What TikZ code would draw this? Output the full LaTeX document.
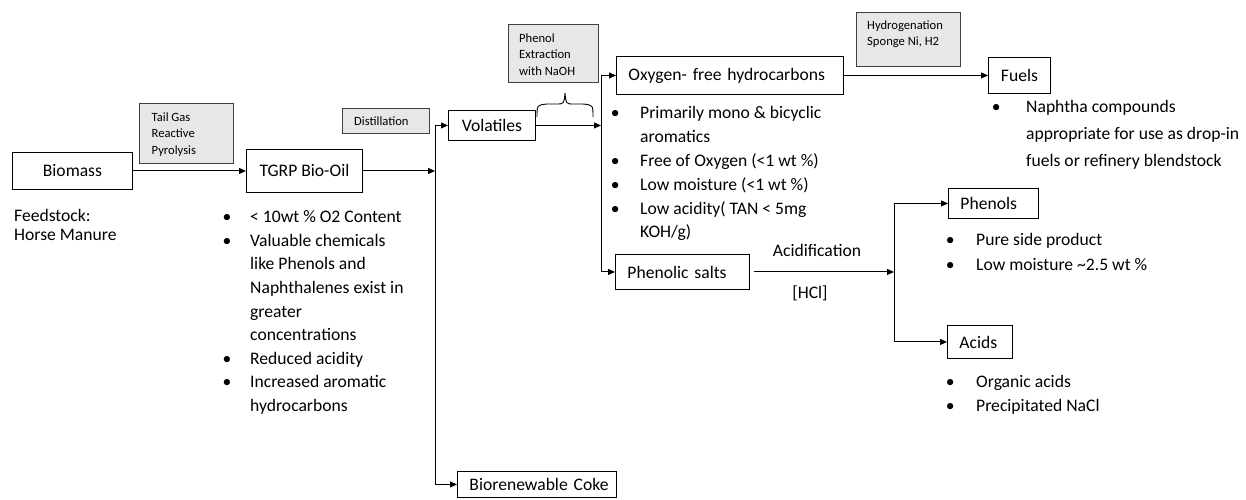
\documentclass[tikz,border=0pt]{standalone}
\usepackage{fontspec}
\setmainfont{Carlito}
\usetikzlibrary{arrows.meta}
\definecolor{grayfill}{HTML}{E7E7E7}
\definecolor{grayedge}{HTML}{404040}
\newcommand{\bigfont}{\fontsize{17.6}{23.6}\selectfont}
\begin{document}
\begin{tikzpicture}[x=1pt,y=-1pt,
  wbox/.style={draw=black, line width=0.9pt, inner ysep=0pt, anchor=north west, font=\bigfont},
  lbox/.style={wbox, inner xsep=12pt, align=left},
  gbox/.style={draw=grayedge, fill=grayfill, line width=0.9pt, anchor=north west, inner sep=0pt},
  gtext/.style={anchor=north west, inner sep=0pt, font=\fontsize{12.6}{16.5}\selectfont},
  ltext/.style={anchor=north west, inner sep=0pt},
  conn/.style={line width=1pt, draw=black},
  arr/.style={conn, -{Triangle[length=7pt,width=6pt]}}
]
\useasboundingbox (0,0) rectangle (1246,499);
\fill[white] (0,0) rectangle (1246,499);

% gray process boxes
\node[gbox, minimum width=94pt, minimum height=60pt] (tgbox) at (139,103) {};
\node[gtext] (tgtxt) at (151.5,109.5) {\begin{tabular}{@{}l@{}}Tail Gas\\ Reactive\\ Pyrolysis\end{tabular}};
\node[gbox, minimum width=87pt, minimum height=25pt] (distbox) at (342,108) {};
\node[gtext] (disttxt) at (354,113.5) {\begin{tabular}{@{}l@{}}Distillation\end{tabular}};
\node[gbox, minimum width=90pt, minimum height=58pt] (pebox) at (508,24) {};
\node[gtext] (petxt) at (519,30.5) {\begin{tabular}{@{}l@{}}Phenol\\ Extraction\\ with NaOH\end{tabular}};
\node[gbox, minimum width=104pt, minimum height=54pt] (hybox) at (856,12) {};
\node[gtext] (hytxt) at (867,17.5) {\begin{tabular}{@{}l@{}}Hydrogenation\\ Sponge Ni, H2\end{tabular}};

% white boxes
\node[wbox, minimum width=120pt, minimum height=37pt] (bio) at (12,152) {Biomass};
\node[wbox, minimum width=116pt, minimum height=43pt] (tgrp) at (246,149) {\raisebox{2pt}{TGRP Bio-Oil}};
\node[wbox, minimum width=87pt, minimum height=30pt] (vol) at (448,110) {Volatiles};
\node[lbox, text width=203pt, minimum height=38pt] (oxy) at (616,56) {\mbox{Oxygen- free hydrocarbons}};
\node[lbox, text width=110pt, minimum height=35pt] (phs) at (615,254) {\mbox{Phenolic salts}};
\node[wbox, minimum width=62pt, minimum height=36pt] (fuel) at (988,57) {Fuels};
\node[lbox, text width=66pt, minimum height=30pt] (phen) at (948,188) {\mbox{Phenols}};
\node[lbox, text width=41pt, minimum height=33pt] (acid) at (947,325) {\mbox{Acids}};
\node[lbox, text width=135pt, minimum height=26pt] (coke) at (457,471) {\mbox{Biorenewable Coke}};

% junction coordinates
\coordinate (ja) at (435,0);
\coordinate (jb) at (601,0);
\coordinate (jc) at (894,0);

% connectors
\draw[arr] (bio.east |- tgrp.west) -- (tgrp.west);
\draw[arr] (tgrp.east) -- (tgrp.east -| ja);
\draw[conn] (vol.west -| ja) -- (coke.west -| ja);
\draw[arr] (vol.west -| ja) -- (vol.west);
\draw[arr] (coke.west -| ja) -- (coke.west);
\draw[arr] (vol.east) -- (vol.east -| jb);
\draw[conn] (oxy.west -| jb) -- (phs.west -| jb);
\draw[arr] (oxy.west -| jb) -- (oxy.west);
\draw[arr] (phs.west -| jb) -- (phs.west);
\draw[arr] (oxy.east) -- (oxy.east -| fuel.west);
\draw[arr] ([xshift=4pt]phs.east) -- (phs.east -| jc);
\draw[conn] (phen.west -| jc) -- (acid.west -| jc);
\draw[arr] (phen.west -| jc) -- (phen.west);
\draw[arr] (acid.west -| jc) -- (acid.west);

% brace under Phenol Extraction
\draw[line width=0.9pt] (537,117) .. controls (537,105) .. (547,104) -- (556,104)
  .. controls (564,104) .. (565,93) .. controls (566,104) .. (574,104) -- (583,104)
  .. controls (593,105) .. (593,117);

% labels
\node[font=\bigfont, inner sep=0pt] (acidif) at (817,250) {Acidification};
\node[font=\bigfont, inner sep=0pt] (hcl) at (810,293) {[HCl]};

% text lists
\node[ltext, font=\fontsize{17.6}{18.5}\selectfont] (feed) at (14,208.5)
  {\begin{tabular}{@{}l@{}}Feedstock:\\ Horse Manure\end{tabular}};
\node[ltext, font=\fontsize{17.6}{23.6}\selectfont] (tgrplist) at (222.5,206)
  {\begin{tabular}{@{}p{27.5pt}@{}l@{}}
  \textbullet & < 10wt \% O2 Content\\
  \textbullet & Valuable chemicals\\
   & like Phenols and\\
   & Naphthalenes exist in\\
   & greater\\
   & concentrations\\
  \textbullet & Reduced acidity\\
  \textbullet & Increased aromatic\\
   & hydrocarbons
  \end{tabular}};
\node[ltext, font=\fontsize{17.6}{23.8}\selectfont] (oxylist) at (610.6,102)
  {\begin{tabular}{@{}p{29.4pt}@{}l@{}}
  \textbullet & Primarily mono \& bicyclic\\
   & aromatics\\
  \textbullet & Free of Oxygen (<1 wt \%)\\
  \textbullet & Low moisture (<1 wt \%)\\
  \textbullet & Low acidity( TAN < 5mg\\
   & KOH/g)
  \end{tabular}};
\node[ltext, font=\fontsize{17.6}{27}\selectfont] (fuellist) at (991.6,93.5)
  {\begin{tabular}{@{}p{34.4pt}@{}l@{}}
  \textbullet & Naphtha compounds\\
   & appropriate for use as drop-in\\
   & fuels or refinery blendstock
  \end{tabular}};
\node[ltext, font=\fontsize{17.6}{25}\selectfont] (phenlist) at (945.6,228)
  {\begin{tabular}{@{}p{30.4pt}@{}l@{}}
  \textbullet & Pure side product\\
  \textbullet & Low moisture \textasciitilde 2.5 wt \%
  \end{tabular}};
\node[ltext, font=\fontsize{17.6}{24}\selectfont] (acidlist) at (945.6,370.5)
  {\begin{tabular}{@{}p{30.4pt}@{}l@{}}
  \textbullet & Organic acids\\
  \textbullet & Precipitated NaCl
  \end{tabular}};
\end{tikzpicture}
\end{document}
